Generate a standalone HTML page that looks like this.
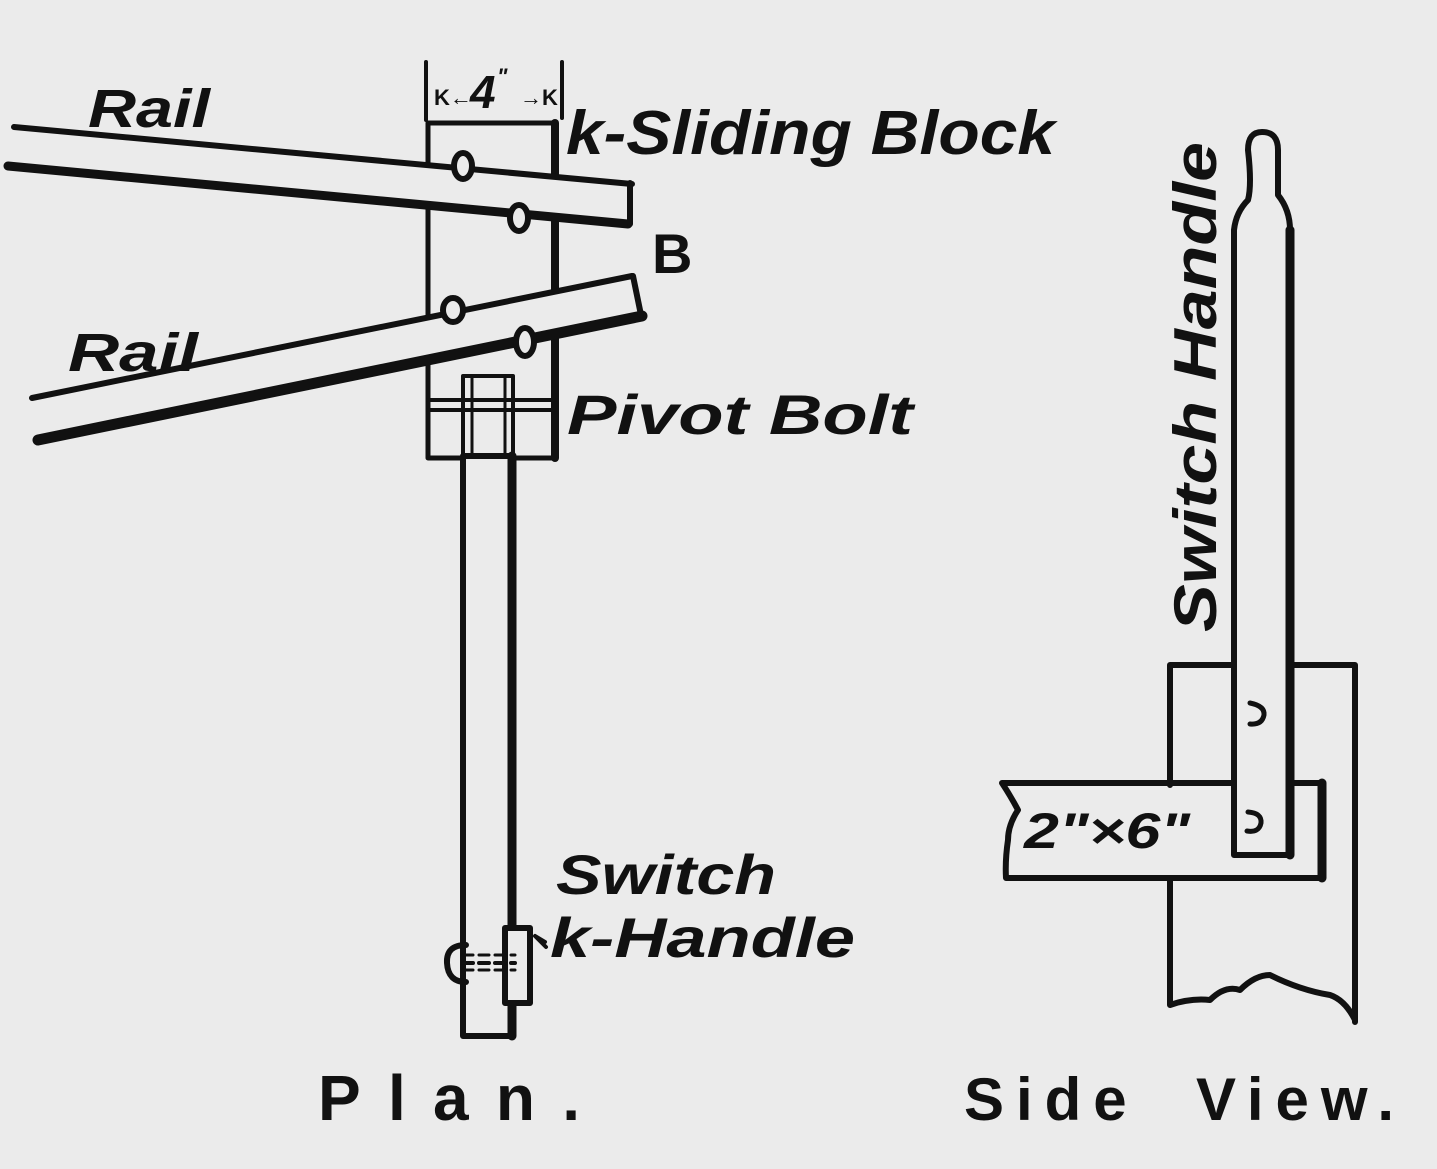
<!DOCTYPE html>
<html><head><style>
html,body{margin:0;padding:0;background:#ebebeb;}
svg{display:block}
text{font-family:"Liberation Sans",sans-serif;fill:#111;font-weight:bold}
</style></head><body>
<svg width="1437" height="1169" viewBox="0 0 1437 1169" xmlns="http://www.w3.org/2000/svg">
<rect width="1437" height="1169" fill="#ebebeb"/>
<g stroke="#111" fill="none" stroke-linecap="round" stroke-linejoin="round">
<line x1="426" y1="62" x2="426" y2="120" stroke-width="4"/>
<line x1="562" y1="62" x2="562" y2="118" stroke-width="4"/>
<rect x="428" y="123" width="127" height="335" stroke-width="5" fill="#ebebeb"/>
<line x1="555" y1="123" x2="555" y2="458" stroke-width="8"/>
<line x1="428" y1="400" x2="555" y2="400" stroke-width="4"/>
<line x1="428" y1="410" x2="555" y2="410" stroke-width="4"/>
<polygon points="12,127 632,184 632,224 8,166" fill="#ebebeb" stroke="none"/>
<line x1="14" y1="127" x2="632" y2="184" stroke-width="6"/>
<line x1="8" y1="166" x2="628" y2="224" stroke-width="9"/>
<line x1="630" y1="183" x2="630" y2="224" stroke-width="6"/>
<ellipse cx="463" cy="166" rx="9" ry="13" stroke-width="6" fill="#ebebeb"/>
<ellipse cx="519" cy="218" rx="9" ry="13" stroke-width="6" fill="#ebebeb"/>
<polygon points="30,398 634,275 642,315 36,440" fill="#ebebeb" stroke="none"/>
<line x1="32" y1="398" x2="632" y2="276" stroke-width="6"/>
<line x1="38" y1="440" x2="642" y2="316" stroke-width="11"/>
<line x1="633" y1="276" x2="641" y2="315" stroke-width="6"/>
<ellipse cx="453" cy="310" rx="10" ry="12" stroke-width="6" fill="#ebebeb"/>
<ellipse cx="525" cy="342" rx="9" ry="14" stroke-width="6" fill="#ebebeb"/>
<rect x="463" y="376" width="50" height="80" stroke-width="4" fill="none"/>
<line x1="472" y1="378" x2="472" y2="456" stroke-width="3"/>
<line x1="505" y1="378" x2="505" y2="456" stroke-width="3"/>
<rect x="463" y="456" width="50" height="580" stroke-width="6" fill="#ebebeb"/>
<line x1="512" y1="456" x2="512" y2="1036" stroke-width="9"/>
<rect x="505" y="928" width="25" height="75" stroke-width="6" fill="#ebebeb"/>
<path d="M466,945 Q446,945 447,963 Q448,982 466,982" stroke-width="6"/>
<line x1="463" y1="963" x2="515" y2="963" stroke-width="4" stroke-dasharray="10,6"/>
<line x1="463" y1="955" x2="515" y2="955" stroke-width="3" stroke-dasharray="10,6"/>
<line x1="463" y1="970" x2="515" y2="970" stroke-width="3" stroke-dasharray="10,6"/>
<path d="M545,942 L535,936 M535,936 L546,947" stroke-width="4"/>
<path d="M1170,785 L1170,665 L1232,665 M1290,665 L1355,665 L1355,1022" stroke-width="6"/>
<path d="M1170,880 L1170,1005 Q1190,998 1210,1000 Q1225,985 1240,990 Q1255,975 1270,975 Q1300,990 1330,995 Q1345,1000 1355,1020" stroke-width="6"/>
<path d="M1232,783 L1002,783 Q1010,795 1018,810 Q1008,825 1008,840 Q1005,860 1006,878 L1322,878 L1322,783 L1290,783" stroke-width="6"/>
<line x1="1322" y1="783" x2="1322" y2="878" stroke-width="9"/>
<path d="M1234,855 L1234,230 Q1236,212 1248,200 Q1252,185 1248,150 Q1248,132 1262,132 Q1278,132 1278,150 L1278,195 Q1290,210 1290,230 L1290,855 Z" stroke-width="6" fill="#ebebeb"/>
<line x1="1290" y1="230" x2="1290" y2="855" stroke-width="9"/>
<path d="M1250,703 Q1265,706 1264,715 Q1262,725 1250,724" stroke-width="5"/>
<path d="M1248,812 Q1262,813 1261,823 Q1259,833 1247,831" stroke-width="5"/>
</g>
<text x="434" y="105" font-size="22">K←</text>
<text x="470" y="108" font-size="46" font-style="italic">4</text>
<text x="497" y="84" font-size="22" font-style="italic">"</text>
<text x="520" y="105" font-size="22">→K</text>
<text x="88" y="127" font-size="54" font-style="italic" textLength="122" lengthAdjust="spacingAndGlyphs">Rail</text>
<text x="566" y="154" font-size="62" font-style="italic" textLength="489" lengthAdjust="spacingAndGlyphs">k-Sliding Block</text>
<text x="652" y="273" font-size="56">B</text>
<text x="68" y="371" font-size="54" font-style="italic" textLength="130" lengthAdjust="spacingAndGlyphs">Rail</text>
<text x="567" y="434" font-size="56" font-style="italic" textLength="346" lengthAdjust="spacingAndGlyphs">Pivot Bolt</text>
<text x="556" y="894" font-size="56" font-style="italic" textLength="220" lengthAdjust="spacingAndGlyphs">Switch</text>
<text x="550" y="957" font-size="56" font-style="italic" textLength="305" lengthAdjust="spacingAndGlyphs">k-Handle</text>
<text x="318" y="1120" font-size="64" font-weight="normal" textLength="262" lengthAdjust="spacing">Plan.</text>
<text x="964" y="1120" font-size="60" font-weight="normal" textLength="430" lengthAdjust="spacing">Side&#160; View.</text>
<text x="1024" y="848" font-size="50" font-style="italic" textLength="166" lengthAdjust="spacingAndGlyphs">2"×6"</text>
<text transform="translate(1216,632) rotate(-90)" font-size="60" font-style="italic" textLength="490" lengthAdjust="spacingAndGlyphs">Switch Handle</text>
</svg>
</body></html>
